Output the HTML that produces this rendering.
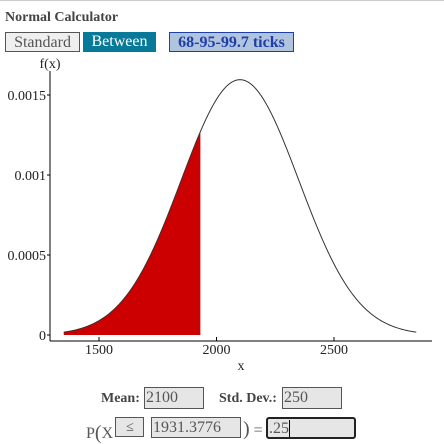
<!DOCTYPE html>
<html><head><meta charset="utf-8"><style>
body{margin:0;width:444px;height:442px;overflow:hidden;background:#fff;font-family:"Liberation Serif",serif;position:relative}
.a{position:absolute}
.btn{position:absolute;top:32px;height:20px;box-sizing:border-box;font-size:16px;line-height:19px;text-align:center}
.inp{position:absolute;box-sizing:border-box;background:#e6e6e6;border:1px solid #555;font-size:16px;color:#555;line-height:19px;padding-left:1px}
.lbl{position:absolute;font-size:14px;font-weight:bold;color:#444}
</style></head><body>
<div class="a" style="left:0;top:0;width:444px;height:1px;background:#ccc"></div>
<div class="a" style="left:5px;top:10px;font-size:14px;font-weight:bold;color:#444">Normal Calculator</div>
<div class="btn" style="left:5px;width:75px;background:#efefef;border:1px solid #555;color:#555">Standard</div>
<div class="btn" style="left:83px;width:73px;background:#087a99;color:#fff;line-height:20px">Between</div>
<div class="btn" style="left:169px;width:125px;background:#b0c4de;border:1px solid #1f3fa8;color:#1f3fa8;font-weight:bold">68-95-99.7 ticks</div>
<svg class="a" style="left:0;top:0" width="444" height="380" id="chart"></svg>
<div class="lbl" style="left:101px;top:391px">Mean:</div>
<div class="inp" style="left:144px;top:387px;width:60px;height:22px">2100</div>
<div class="lbl" style="left:219px;top:391px">Std. Dev.:</div>
<div class="inp" style="left:282px;top:387px;width:60px;height:22px">250</div>
<div class="a" style="left:86px;top:421px;font-size:16px;color:#555">P<span style="font-size:20px;position:relative;top:1px">(</span>X</div>
<div class="inp" style="left:115px;top:417px;width:29px;height:20px;text-align:center;font-size:14px">≤</div>
<div class="inp" style="left:151px;top:417px;width:90px;height:21px">1931.3776</div>
<div class="a" style="left:243px;top:418px;font-size:16px;color:#555"><span style="font-size:20px">)</span> =</div>
<div class="inp" style="left:266px;top:417px;width:90px;height:22px;border:2px solid #222;border-radius:3px">.25<span style="border-left:1px solid #000;margin-left:0"></span></div>
<script>
const params=[2100,250];
const cutoff=[1931.3776];
const xRange=[1350,2850];
const xTicks=[1500,2000,2500];
const yTicks=[0,0.0005,0.001,0.0015];
const yTickLabels=["0","0.0005","0.001","0.0015"];
const NS="http://www.w3.org/2000/svg";
const svg=document.getElementById('chart');
const X=v=>99+(v-1500)*(117.5/500);
const Y=v=>335-v*160000;
const pdf=x=>Math.exp(-0.5*((x-params[0])/params[1])**2)/(params[1]*Math.sqrt(2*Math.PI));
function mk(t,a){const e=document.createElementNS(NS,t);for(const k in a)e.setAttribute(k,a[k]);svg.appendChild(e);return e;}
let fd=`M${X(xRange[0])},${Y(0)}`;
for(let x=xRange[0];x<=cutoff[0];x+=5)fd+=`L${X(x)},${Y(pdf(x))}`;
fd+=`L${X(cutoff[0])},${Y(pdf(cutoff[0]))}L${X(cutoff[0])},${Y(0)}Z`;
const f=mk('path',{d:fd,fill:'#cc0000'});


let d='';
for(let x=xRange[0];x<=xRange[1];x+=5)d+=(d?'L':'M')+X(x)+','+Y(pdf(x));
const c=mk('path',{d:d,fill:'none',stroke:'#333','stroke-width':1});


const ya=mk('line',{x1:50,y1:71,x2:50,y2:341,stroke:'#000'});


const xa=mk('line',{x1:50,y1:341,x2:432,y2:341,stroke:'#000'});


yTicks.forEach((v,i)=>{
 const tk=mk('line',{x1:47,x2:50,y1:Y(v),y2:Y(v),stroke:'#000'});
 
 
 const t=mk('text',{x:46,y:Y(v)+5,'text-anchor':'end','font-size':14,'font-family':'Liberation Serif, serif',fill:'#222'});
 t.textContent=yTickLabels[i];
 
 
});
xTicks.forEach(v=>{
 const tk=mk('line',{x1:X(v),x2:X(v),y1:337,y2:341,stroke:'#000'});
 
 
 const t=mk('text',{x:X(v),y:354,'text-anchor':'middle','font-size':14,'font-family':'Liberation Serif, serif',fill:'#222'});
 t.textContent=v;
 
 
});
const xt=mk('text',{x:241,y:370,'text-anchor':'middle','font-size':14,'font-family':'Liberation Serif, serif',fill:'#222'});
xt.textContent='x';


const yt=mk('text',{x:50,y:68,'text-anchor':'middle','font-size':14,'font-family':'Liberation Serif, serif',fill:'#222'});
yt.textContent='f(x)';


</script>
</body></html>
